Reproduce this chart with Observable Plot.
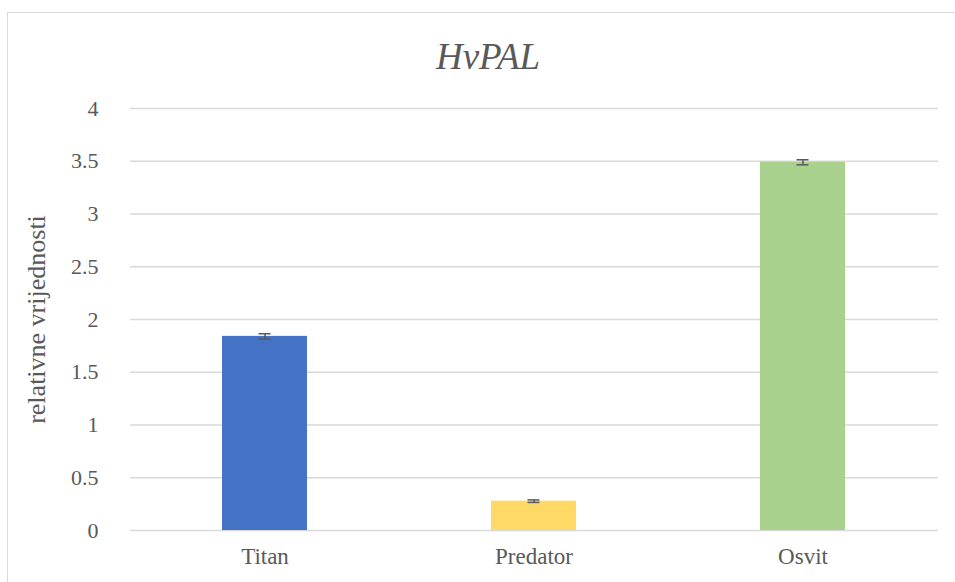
<!DOCTYPE html>
<html>
<head>
<meta charset="utf-8">
<script src="https://cdn.jsdelivr.net/npm/d3@7"></script>
<script src="https://cdn.jsdelivr.net/npm/@observablehq/plot@0.6"></script>
<style>
  html, body { margin: 0; padding: 0; background: #fff; }
  #wrap { position: relative; width: 955px; height: 582px; overflow: hidden; font-family: "Liberation Serif", "Times New Roman", serif; }
  #frame { position: absolute; left: 7px; top: 12px; width: 960px; height: 600px; border: 1px solid #d9d9d9; box-sizing: border-box; }
  #title { position: absolute; left: 0; width: 976px; top: 36px; text-align: center; font-style: italic; font-size: 37px; color: #595959; line-height: 42px; }
  #chart { position: absolute; left: 0; top: 0; }
  #chart svg, #chart svg text { font-family: "Liberation Serif", "Times New Roman", serif !important; }
</style>
</head>
<body>
<div id="wrap">
  <div id="frame"></div>
  <div id="chart"></div>
  <div id="title">HvPAL</div>
</div>
<script>
const categories = ["Titan", "Predator", "Osvit"];
const values = [1.84, 0.278, 3.49];
const errors = [0.025, 0.012, 0.024];
const colors = ["#4472C4", "#FFD966", "#A9D18E"];
const yTicks = [0, 0.5, 1, 1.5, 2, 2.5, 3, 3.5, 4];
const yLabel = "relativne vrijednosti";

const data = categories.map((c, i) => ({cat: c, v: values[i], e: errors[i], col: colors[i]}));
const serif = "'Liberation Serif', 'Times New Roman', serif";

const chart = Plot.plot({
  width: 955,
  height: 582,
  marginLeft: 130,
  marginRight: 17,
  marginTop: 108,
  marginBottom: 52,
  style: {fontFamily: serif, fontSize: "22px", color: "#595959", background: "transparent"},
  x: {domain: categories, paddingInner: 0.684, paddingOuter: 0.342, label: null},
  y: {domain: [0, 4], label: null},
  marks: [
    Plot.ruleY(yTicks, {y: d => d, stroke: "#d9d9d9", strokeWidth: 1.3, strokeOpacity: 1}),
    Plot.barY(data, {x: "cat", y: "v", fill: "col"}),
    Plot.ruleX(data, {x: "cat", y1: d => d.v - d.e, y2: d => d.v + d.e, stroke: "#595959", strokeWidth: 1.5}),
    Plot.tickY(data, {x: "cat", y: d => d.v + d.e, stroke: "#595959", strokeWidth: 1.5, inset: 36.5}),
    Plot.tickY(data, {x: "cat", y: d => d.v - d.e, stroke: "#595959", strokeWidth: 1.5, inset: 36.5}),
    Plot.axisY({ticks: yTicks, tickSize: 0, tickPadding: 32, tickFormat: d => String(d), fontSize: 22, fill: "#595959", fontFamily: serif, label: null}),
    Plot.axisX({tickSize: 0, tickPadding: 17, fontSize: 23, fill: "#595959", fontFamily: serif, label: null}),
    Plot.text([yLabel], {frameAnchor: "left", dx: -94, rotate: -90, textAnchor: "middle", fontSize: 26, fill: "#595959", fontFamily: serif, text: d => d})
  ]
});
document.getElementById("chart").appendChild(chart);
</script>
</body>
</html>
